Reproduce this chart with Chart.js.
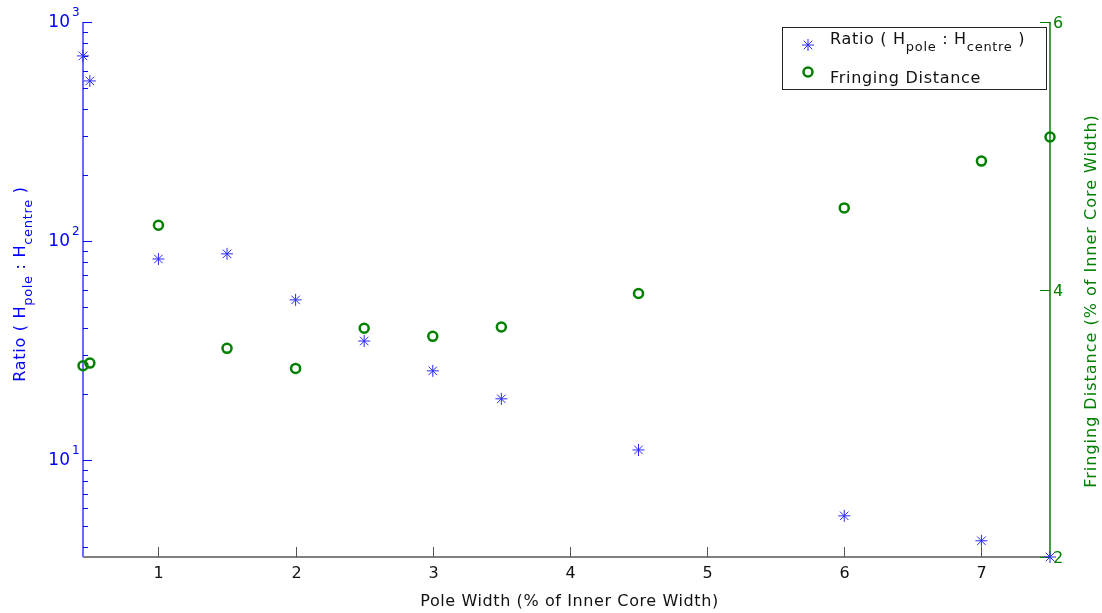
<!DOCTYPE html>
<html>
<head>
<meta charset="utf-8">
<script src="https://cdn.jsdelivr.net/npm/chart.js@4"></script>
<style>
  body { margin: 0; background: #fff; }
  #wrap { width: 1102px; height: 613px; }
</style>
</head>
<body>
<div id="wrap"><canvas id="chart" width="1102" height="613"></canvas></div>
<script>
const poleWidth = [0.45, 0.5, 1, 1.5, 2, 2.5, 3, 3.5, 4.5, 6, 7, 7.5]
const ratioValues = [700, 538, 82.7, 87.3, 53.8, 34.9, 25.5, 19.0, 11.1, 5.55, 4.27, 3.6]
const fringingValues = [3.43, 3.45, 4.48, 3.56, 3.41, 3.71, 3.65, 3.72, 3.97, 4.61, 4.96, 5.14]

const xTicks = [1, 2, 3, 4, 5, 6, 7]
const ratioExponents = [1, 2, 3]
const fringingTicks = [2, 4, 6]

const font = '"DejaVu Sans", Verdana, sans-serif'
const blue = '#0000ff'
const green = '#008000'

// draws text made of normal and subscript pieces, left aligned on a baseline
function richText (ctx, parts, x, y) {
    parts.forEach((p) => {
        ctx.font = (p.sub ? '13px ' : '16px ') + font
        ctx.fillText(p.t, x, p.sub ? y + 7 : y)
        x += ctx.measureText(p.t).width
    })
}

function richWidth (ctx, parts) {
    let w = 0
    parts.forEach((p) => {
        ctx.font = (p.sub ? '13px ' : '16px ') + font
        w += ctx.measureText(p.t).width
    })
    return w
}

const ratioLabel = [
    { t: 'Ratio ( H' }, { t: 'pole', sub: true }, { t: ' : H' }, { t: 'centre', sub: true }, { t: ' )' }
]

function drawStar (ctx, x, y, r) {
    ctx.beginPath()
    for (let i = 0; i < 4; i++) {
        const a = i * Math.PI / 4
        ctx.moveTo(x - r * Math.cos(a), y - r * Math.sin(a))
        ctx.lineTo(x + r * Math.cos(a), y + r * Math.sin(a))
    }
    ctx.stroke()
}

const axesPlugin = {
    id: 'axes',
    beforeDatasetsDraw (chart) {
        const { ctx, chartArea: a, scales } = chart
        const sx = scales.x
        const sy = scales.y
        const sy1 = scales.y1
        ctx.save()

        // x axis
        ctx.strokeStyle = '#808080'
        ctx.lineWidth = 2
        ctx.beginPath()
        ctx.moveTo(a.left, a.bottom)
        ctx.lineTo(a.right, a.bottom)
        ctx.stroke()
        ctx.strokeStyle = '#555'
        ctx.lineWidth = 1
        ctx.fillStyle = '#111'
        ctx.font = '16px ' + font
        ctx.textAlign = 'center'
        ctx.textBaseline = 'middle'
        xTicks.forEach((v) => {
            const px = Math.round(sx.getPixelForValue(v)) + 0.5
            ctx.beginPath()
            ctx.moveTo(px, a.bottom)
            ctx.lineTo(px, a.bottom - 10)
            ctx.stroke()
            ctx.fillText(String(v), px, a.bottom + 17)
        })

        // left log axis
        ctx.strokeStyle = '#6a6aff'
        ctx.lineWidth = 2
        ctx.beginPath()
        ctx.moveTo(a.left, a.top)
        ctx.lineTo(a.left, a.bottom)
        ctx.stroke()
        ctx.strokeStyle = blue
        ctx.lineWidth = 1
        for (let d = 1; d <= 100; d *= 10) {
            for (let k = 1; k <= 10; k++) {
                const v = k * d
                if (v < sy.min || v > sy.max) continue
                const py = Math.round(sy.getPixelForValue(v)) + 0.5
                const len = (k === 1 || k === 10) ? 9 : 5
                ctx.beginPath()
                ctx.moveTo(a.left, py)
                ctx.lineTo(a.left + len, py)
                ctx.stroke()
            }
        }
        ctx.fillStyle = blue
        ratioExponents.forEach((e) => {
            const py = sy.getPixelForValue(Math.pow(10, e))
            ctx.font = '17px ' + font
            ctx.textAlign = 'right'
            ctx.textBaseline = 'middle'
            ctx.fillText('10', 70, py + 1)
            ctx.font = '12px ' + font
            ctx.textAlign = 'left'
            ctx.fillText(String(e), 72, py - 9)
        })

        // right linear axis
        ctx.strokeStyle = green
        ctx.lineWidth = 1.5
        ctx.beginPath()
        ctx.moveTo(a.right, a.top)
        ctx.lineTo(a.right, a.bottom)
        ctx.stroke()
        ctx.lineWidth = 1
        ctx.fillStyle = green
        ctx.font = '16px ' + font
        ctx.textAlign = 'left'
        ctx.textBaseline = 'middle'
        fringingTicks.forEach((v) => {
            const py = Math.round(sy1.getPixelForValue(v)) + 0.5
            ctx.beginPath()
            ctx.moveTo(a.right, py)
            ctx.lineTo(a.right - 10, py)
            ctx.stroke()
            ctx.fillText(String(v), a.right + 3, py + 1)
        })
        ctx.restore()
    },
    afterDraw (chart) {
        const { ctx, chartArea: a } = chart
        ctx.save()

        // axis titles
        ctx.letterSpacing = '0.6px'
        ctx.fillStyle = '#111'
        ctx.font = '16px ' + font
        ctx.textAlign = 'center'
        ctx.textBaseline = 'middle'
        ctx.fillText('Pole Width (% of Inner Core Width)', (a.left + a.right) / 2 + 3, 602)

        ctx.letterSpacing = '1px'
        ctx.fillStyle = green
        ctx.save()
        ctx.translate(1092, 301)
        ctx.rotate(-Math.PI / 2)
        ctx.fillText('Fringing Distance (% of Inner Core Width)', 0, 0)
        ctx.restore()

        ctx.letterSpacing = '0.7px'
        ctx.fillStyle = blue
        ctx.textAlign = 'left'
        ctx.textBaseline = 'alphabetic'
        ctx.save()
        ctx.translate(25, 284)
        ctx.rotate(-Math.PI / 2)
        richText(ctx, ratioLabel, -richWidth(ctx, ratioLabel) / 2, 0)
        ctx.restore()

        // legend
        ctx.fillStyle = '#fff'
        ctx.fillRect(782, 27, 264, 62)
        ctx.strokeStyle = '#222'
        ctx.lineWidth = 1
        ctx.strokeRect(782.5, 27.5, 264, 62)
        ctx.strokeStyle = '#2a2aff'
        drawStar(ctx, 808, 45, 6)
        ctx.strokeStyle = green
        ctx.lineWidth = 2.5
        ctx.beginPath()
        ctx.arc(808, 72, 4.5, 0, Math.PI * 2)
        ctx.stroke()
        ctx.fillStyle = '#111'
        richText(ctx, ratioLabel, 830, 44)
        ctx.font = '16px ' + font
        ctx.fillText('Fringing Distance', 830, 83)
        ctx.restore()
    }
}

new Chart(document.getElementById('chart'), {
    type: 'scatter',
    data: {
        datasets: [
            {
                label: 'Fringing Distance',
                data: poleWidth.map((x, i) => ({ x: x, y: fringingValues[i] })),
                yAxisID: 'y1',
                pointStyle: 'circle',
                pointRadius: 4.5,
                pointHoverRadius: 4.5,
                borderWidth: 2.5,
                borderColor: green,
                backgroundColor: 'rgba(0,0,0,0)',
                clip: false
            },
            {
                label: 'Ratio',
                data: poleWidth.map((x, i) => ({ x: x, y: ratioValues[i] })),
                yAxisID: 'y',
                pointStyle: 'star',
                pointRadius: 6,
                pointHoverRadius: 6,
                borderWidth: 1,
                borderColor: '#2a2aff',
                backgroundColor: '#2a2aff',
                clip: false
            }
        ]
    },
    options: {
        responsive: false,
        animation: false,
        layout: { padding: { top: 22, left: 0, right: 0, bottom: 0 } },
        plugins: { legend: { display: false }, tooltip: { enabled: false } },
        scales: {
            x: {
                type: 'linear',
                min: 0.45,
                max: 7.5,
                grid: { display: false },
                border: { display: false },
                ticks: { display: false },
                afterFit: (s) => { s.height = 56 }
            },
            y: {
                type: 'logarithmic',
                position: 'left',
                min: 3.6,
                max: 1000,
                grid: { display: false },
                border: { display: false },
                ticks: { display: false },
                afterFit: (s) => { s.width = 83 }
            },
            y1: {
                type: 'linear',
                position: 'right',
                min: 2,
                max: 6,
                grid: { display: false },
                border: { display: false },
                ticks: { display: false },
                afterFit: (s) => { s.width = 52 }
            }
        }
    },
    plugins: [axesPlugin]
})
</script>
</body>
</html>
